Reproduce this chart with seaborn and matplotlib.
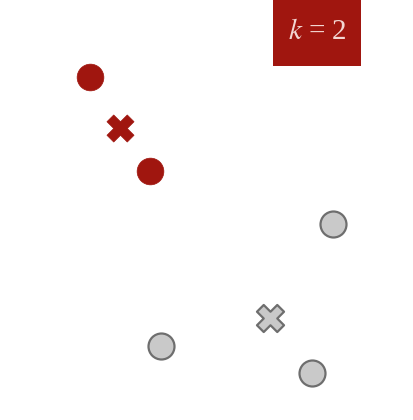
import matplotlib
matplotlib.use("Agg")
import matplotlib.pyplot as plt
from matplotlib.patches import Rectangle
import seaborn as sns
import pandas as pd

# points (pixel-like units, y grows downward)
red_x = [90, 150]
red_y = [77, 171]
gray_x = [333, 161, 312]
gray_y = [224, 346, 373]
centroid_x = [120, 270]
centroid_y = [128, 318]
centroid_cluster = ["red", "gray"]
label_text = "$k$ = 2"

dark_red = "#a0160f"
light_gray = "#c9c9c9"
edge_gray = "#6e6e6e"

sns.set_theme(style="white")
plt.rcParams["mathtext.fontset"] = "stix"

fig = plt.figure(figsize=(4.14, 4.2), dpi=100)
ax = fig.add_axes([0, 0, 1, 1])

pts = pd.DataFrame({"x": red_x + gray_x, "y": red_y + gray_y,
                    "cluster": ["red"] * len(red_x) + ["gray"] * len(gray_x)})
cents = pd.DataFrame({"x": centroid_x, "y": centroid_y, "cluster": centroid_cluster})

sns.scatterplot(data=pts[pts.cluster == "red"], x="x", y="y", ax=ax,
                s=370, color=dark_red, edgecolor=dark_red, linewidth=0.5, legend=False)
sns.scatterplot(data=pts[pts.cluster == "gray"], x="x", y="y", ax=ax,
                s=350, color=light_gray, edgecolor=edge_gray, linewidth=1.6, legend=False)
sns.scatterplot(data=cents[cents.cluster == "red"], x="x", y="y", ax=ax, marker="X",
                s=380, color=dark_red, edgecolor=dark_red, linewidth=0.5, legend=False)
sns.scatterplot(data=cents[cents.cluster == "gray"], x="x", y="y", ax=ax, marker="X",
                s=380, color=light_gray, edgecolor=edge_gray, linewidth=1.6, legend=False)

ax.set_xlim(0, 414)
ax.set_ylim(420, 0)
ax.set_axis_off()

# k label box in the upper right
ax.add_patch(Rectangle((273 / 414, 1 - 66 / 420), 88 / 414, 66 / 420,
                       transform=ax.transAxes, facecolor=dark_red, edgecolor="none"))
ax.text(317 / 414, 1 - 32 / 420, label_text, transform=ax.transAxes, ha="center",
        va="center", fontsize=21, color="#f3d6d2", family="Liberation Serif")

fig.savefig("out.png", dpi=100)
